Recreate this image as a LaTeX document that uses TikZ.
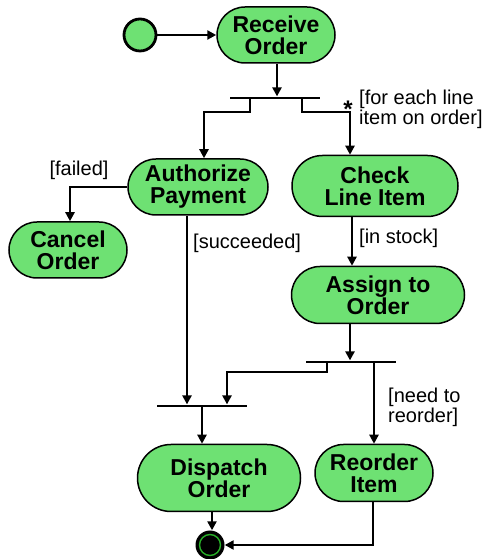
\documentclass[tikz,border=0pt]{standalone}
\usepackage{fontspec}
\setmainfont{Liberation Sans}
\usetikzlibrary{arrows.meta,shapes.misc}
\definecolor{actgreen}{RGB}{110,225,115}
\definecolor{ringgreen}{RGB}{40,175,40}

\begin{document}
\begin{tikzpicture}[x=1pt, y=1pt,
  activity/.style={rounded rectangle, draw, line width=1.5pt, fill=actgreen,
    align=center, inner sep=0pt, font=\bfseries\fontsize{23}{22}\selectfont},
  bar/.style={fill=black, inner sep=0pt, minimum height=2.8pt},
  flow/.style={line width=2.7pt, -{Triangle[length=9pt, width=9pt]}},
  guard/.style={font=\fontsize{20}{20}\selectfont, align=left, inner sep=0pt}]

\useasboundingbox (0,0) rectangle (492,559);

% --- initial and final states ---
\node[circle, draw, line width=2.8pt, fill=actgreen, minimum size=32pt, inner sep=0pt] (start) at (140,524) {};
\node[circle, fill=black, minimum size=29pt, inner sep=0pt] (finish) at (210,14) {};
\draw[ringgreen, line width=1.4pt] (finish) circle (10.5pt);

% --- activities ---
\node[activity, minimum width=118pt, minimum height=56pt] (receive)   at (276,524) {Receive\\Order};
\node[activity, minimum width=140pt, minimum height=56pt] (authorize) at (198,372) {Authorize\\Payment};
\node[activity, minimum width=118pt, minimum height=56pt] (cancel)    at (68,309)  {Cancel\\Order};
\node[activity, minimum width=166pt, minimum height=61pt] (check)     at (375,373) {Check\\Line Item};
\node[activity, minimum width=173pt, minimum height=57pt] (assign)    at (378,264) {Assign to\\Order};
\node[activity, minimum width=163pt, minimum height=67pt] (dispatch)  at (219,81)  {Dispatch\\Order};
\node[activity, minimum width=118pt, minimum height=57pt] (reorder)   at (374,86)  {Reorder\\Item};

% --- fork and join bars ---
\node[bar, minimum width=90pt] (forkA) at (275,461) {};
\node[bar, minimum width=90pt] (forkB) at (351,197) {};
\node[bar, minimum width=90pt] (forkC) at (202,153) {};

% --- flows ---
\draw[flow] (start) -- (receive);
\draw[flow] ([xshift=1pt]receive.south) -- ([xshift=1pt]receive.south |- forkA.north);
\draw[flow] ([xshift=-25pt]forkA.center) -- ++(0,-14) -| ([xshift=6pt]authorize.north);
\draw[flow] ([xshift=27pt]forkA.center) -- ++(0,-14) -| ([xshift=-25pt]check.north);
\draw[flow] (authorize.west) -| ([xshift=2pt]cancel.north);
\draw[flow] ([xshift=-11pt]authorize.south) -- ([xshift=-11pt]authorize.south |- forkC.north);
\draw[flow] ([xshift=-23pt]check.south) -- ([xshift=-23pt]check.south |- assign.north);
\draw[flow] ([xshift=-28pt]assign.south) -- ([xshift=-28pt]assign.south |- forkB.north);
\draw[flow] ([xshift=-24pt]forkB.center) -- ++(0,-10) -| ([xshift=25pt]forkC.north);
\draw[flow] (reorder.north |- forkB.center) -- (reorder.north);
\draw[flow] (forkC.center) -- (forkC.center |- dispatch.north);
\draw[flow] ([xshift=2pt]finish.north |- dispatch.south) -- ([xshift=2pt]finish.north);
\draw[flow] ([xshift=-1pt]reorder.south) |- (finish.east);

% --- guards ---
\node[guard] (failedlbl) at (79,389) {[failed]};
\node[guard, anchor=west] (succlbl) at (193,316) {[succeeded]};
\node[guard, anchor=west] (stocklbl) at (359,321) {[in stock]};
\node[guard, anchor=west] (eachlbl) at (359,450) {[for each line\\item on order]};
\node[guard, anchor=west] (needlbl) at (388,152) {[need to\\reorder]};
\node[font=\bfseries\fontsize{24}{24}\selectfont, inner sep=0pt] (star) at (348,450) {*};

\end{tikzpicture}
\end{document}
